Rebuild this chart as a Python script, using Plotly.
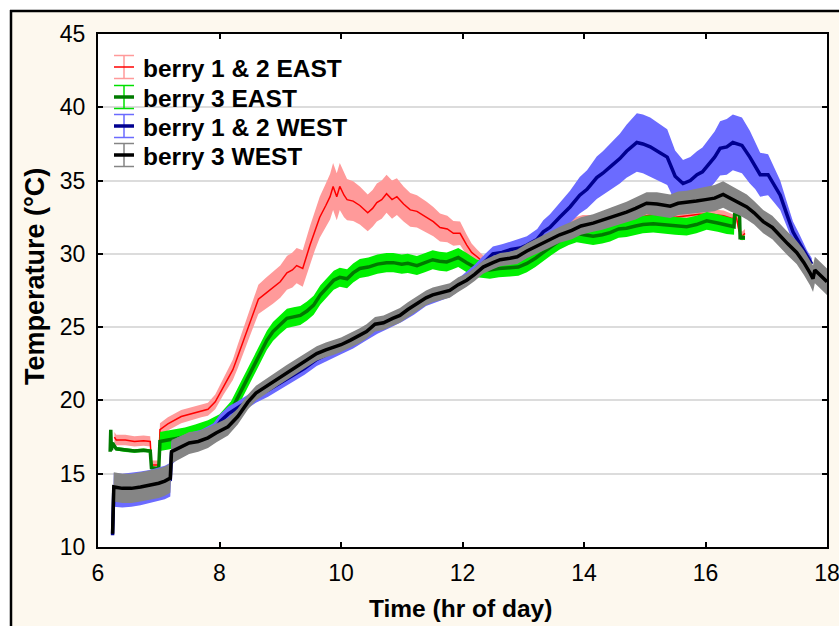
import plotly.graph_objects as go

# ---------------- data ----------------
x_ticks = [6, 8, 10, 12, 14, 16, 18]
y_ticks = [10, 15, 20, 25, 30, 35, 40, 45]

series_names = ["berry 1 & 2 EAST", "berry 3 EAST", "berry 1 & 2 WEST", "berry 3 WEST"]
x_title = "Time (hr of day)"
y_title = "Temperature (°C)"

# berry 1 & 2 EAST (red)
red_t = [6.27, 6.3, 6.45, 6.6, 6.75, 6.86, 6.88, 7.0, 7.02, 7.15, 7.37, 7.55, 7.7, 7.81, 7.93, 8.06,
         8.14, 8.22, 8.3, 8.39, 8.5, 8.64, 8.76, 8.88, 9.0, 9.11, 9.2, 9.27, 9.37, 9.49, 9.57, 9.65,
         9.75, 9.82, 9.87, 9.93, 9.98, 10.05, 10.1, 10.2, 10.31, 10.44, 10.52, 10.59, 10.67, 10.75,
         10.84, 10.92, 11.03, 11.14, 11.25, 11.41, 11.52, 11.63, 11.75, 11.85, 11.96, 12.07, 12.15,
         12.24, 12.35, 12.5, 12.7, 12.9, 13.1, 13.3, 13.45, 13.6, 13.82, 13.98, 14.2, 14.4, 14.6,
         14.81, 15.09, 15.3, 15.5, 15.7, 15.9, 16.1, 16.3, 16.45, 16.5, 16.55, 16.6, 16.65]
red_mean = [17.5, 17.3, 17.3, 17.2, 17.25, 17.2, 15.6, 15.6, 18.0, 18.4, 18.9, 19.1, 19.3, 19.4, 19.9, 20.9,
            21.5, 22.1, 23.0, 24.0, 25.3, 26.9, 27.3, 27.7, 28.1, 28.7, 28.9, 29.2, 29.0, 30.6, 31.6, 32.5,
            33.3, 33.9, 34.6, 33.9, 34.6, 34.0, 33.7, 33.6, 33.3, 32.8, 33.1, 33.5, 33.7, 34.1,
            33.7, 33.9, 33.4, 33.0, 32.9, 32.5, 32.2, 31.8, 31.7, 31.4, 31.4, 30.6, 30.1,
            29.8, 29.4, 29.3, 29.5, 29.8, 30.2, 30.8, 31.3, 31.8, 32.1, 32.3, 32.3, 32.2, 32.3,
            32.4, 32.65, 32.6, 32.5, 32.6, 32.7, 32.7, 32.6, 32.4, 32.7, 31.6, 31.2, 31.4]
red_err = [0.35, 0.35, 0.35, 0.35, 0.35, 0.35, 0.3, 0.3, 0.45, 0.45, 0.45, 0.45, 0.45, 0.45, 0.5, 0.55,
           0.6, 0.7, 0.8, 0.85, 0.9, 1.0, 1.05, 1.1, 1.1, 1.15, 1.2, 1.2, 1.25, 1.3, 1.35, 1.4,
           1.5, 1.55, 1.6, 1.6, 1.6, 1.5, 1.4, 1.35, 1.3, 1.25, 1.25, 1.3, 1.3, 1.3,
           1.3, 1.25, 1.2, 1.15, 1.1, 1.05, 1.0, 0.95, 0.9, 0.85, 0.8, 0.7, 0.6,
           0.5, 0.45, 0.4, 0.4, 0.4, 0.4, 0.4, 0.4, 0.4, 0.35, 0.35, 0.35, 0.35, 0.35,
           0.35, 0.35, 0.35, 0.35, 0.35, 0.35, 0.35, 0.35, 0.3, 0.3, 0.3, 0.3, 0.3]

# berry 3 EAST (green)
grn_t = [6.2, 6.21, 6.22, 6.24, 6.3, 6.45, 6.6, 6.75, 6.86, 6.88, 6.95, 7.0, 7.02, 7.15, 7.3, 7.43,
         7.6, 7.81, 8.0, 8.19, 8.35, 8.5, 8.67, 8.78, 8.88, 9.0, 9.11, 9.22, 9.33, 9.44, 9.55, 9.66,
         9.77, 9.88, 9.98, 10.1, 10.2, 10.31, 10.45, 10.6, 10.75, 10.86, 11.0, 11.1, 11.25, 11.38,
         11.51, 11.62, 11.74, 11.84, 11.93, 12.07, 12.24, 12.45, 12.6, 12.78, 12.92, 13.06, 13.2,
         13.33, 13.46, 13.6, 13.75, 13.88, 14.0, 14.15, 14.3, 14.43, 14.57, 14.7, 14.85, 14.97,
         15.14, 15.3, 15.5, 15.69, 15.85, 16.02, 16.2, 16.35, 16.47, 16.48, 16.56, 16.57, 16.65]
grn_mean = [16.5, 18.0, 16.6, 17.1, 16.7, 16.6, 16.55, 16.6, 16.55, 15.4, 15.35, 15.4, 17.2, 17.3, 17.4, 17.5,
            17.7, 18.0, 18.4, 19.3, 20.6, 21.8, 23.2, 24.1, 24.7, 25.2, 25.6, 25.7, 25.8, 26.1, 26.5, 27.2,
            27.7, 28.2, 28.4, 28.3, 28.7, 29.0, 29.1, 29.3, 29.4, 29.4, 29.3, 29.35, 29.2, 29.4,
            29.6, 29.5, 29.45, 29.6, 29.75, 29.4, 29.0, 28.9, 29.0, 29.05, 29.1, 29.35, 29.7,
            30.1, 30.5, 30.9, 31.2, 31.4, 31.3, 31.2, 31.3, 31.45, 31.7, 31.75, 31.9, 32.0,
            32.05, 32.0, 31.9, 31.85, 32.0, 32.25, 32.1, 31.95, 31.85, 32.7, 32.7, 31.1, 31.1]
grn_err = [0.1, 0.1, 0.1, 0.1, 0.12, 0.12, 0.12, 0.12, 0.12, 0.12, 0.12, 0.12, 0.65, 0.65, 0.65, 0.65,
           0.65, 0.65, 0.65, 0.65, 0.65, 0.65, 0.65, 0.65, 0.65, 0.65, 0.65, 0.65, 0.65, 0.65, 0.65, 0.65,
           0.65, 0.65, 0.65, 0.65, 0.65, 0.65, 0.65, 0.65, 0.65, 0.65, 0.65, 0.65, 0.65, 0.65,
           0.65, 0.65, 0.65, 0.65, 0.65, 0.65, 0.6, 0.6, 0.6, 0.6, 0.6, 0.6, 0.6,
           0.6, 0.6, 0.6, 0.6, 0.6, 0.6, 0.6, 0.6, 0.6, 0.6, 0.6, 0.6, 0.6,
           0.6, 0.6, 0.6, 0.6, 0.6, 0.6, 0.6, 0.6, 0.55, 0.15, 0.15, 0.15, 0.15]

# berry 1 & 2 WEST (blue)
blu_t = [6.24, 6.26, 6.4, 6.55, 6.7, 6.85, 7.0, 7.1, 7.19, 7.21, 7.3, 7.5, 7.7, 7.9, 8.02, 8.15,
         8.3, 8.45, 8.6, 8.8, 9.0, 9.2, 9.4, 9.6, 9.8, 10.0, 10.2, 10.4, 10.6, 10.8, 11.0, 11.2,
         11.4, 11.6, 11.8, 12.0, 12.2, 12.35, 12.5, 12.65, 12.8, 12.95, 13.06, 13.23, 13.33, 13.44,
         13.6, 13.77, 13.93, 14.05, 14.21, 14.31, 14.45, 14.59, 14.7, 14.87, 14.97, 15.09, 15.25,
         15.37, 15.5, 15.63, 15.75, 15.86, 15.95, 16.07, 16.15, 16.24, 16.35, 16.45, 16.6, 16.73,
         16.82, 16.9, 17.03, 17.13, 17.23, 17.33, 17.44, 17.55, 17.67, 17.75]
blu_mean = [10.8, 13.9, 13.85, 13.9, 14.0, 14.1, 14.3, 14.4, 14.6, 16.4, 16.7, 17.1, 17.4, 17.9, 18.6, 19.1,
            19.5, 19.9, 20.3, 20.7, 21.2, 21.7, 22.2, 22.8, 23.2, 23.6, 24.0, 24.5, 25.0, 25.4, 25.8, 26.3,
            26.9, 27.2, 27.5, 28.1, 28.8, 29.4, 30.0, 30.1, 30.3, 30.4, 30.6, 31.0, 31.5, 31.8,
            32.5, 33.2, 34.0, 34.4, 35.2, 35.5, 36.0, 36.5, 37.0, 37.6, 37.5, 37.3, 36.9,
            36.6, 35.3, 34.8, 35.0, 35.4, 35.6, 36.2, 36.6, 37.2, 37.3, 37.6, 37.4, 36.6,
            36.0, 35.4, 35.4, 34.7, 34.0, 32.8, 31.5, 30.7, 29.8, 29.3]
blu_err = [0.1, 1.15, 1.15, 1.15, 1.15, 1.15, 1.15, 1.15, 1.15, 0.8, 0.75, 0.7, 0.6, 0.55, 0.5, 0.5,
           0.45, 0.45, 0.45, 0.45, 0.45, 0.45, 0.45, 0.45, 0.45, 0.45, 0.45, 0.45, 0.45, 0.45, 0.45, 0.45,
           0.45, 0.45, 0.45, 0.45, 0.45, 0.5, 0.5, 0.55, 0.55, 0.6, 0.6, 0.7, 0.8, 0.9,
           1.0, 1.1, 1.25, 1.3, 1.45, 1.5, 1.6, 1.7, 1.8, 2.0, 2.0, 2.0, 1.95,
           1.9, 1.75, 1.6, 1.6, 1.6, 1.65, 1.7, 1.75, 1.85, 1.9, 1.9, 1.9, 1.8,
           1.6, 1.5, 1.4, 1.2, 1.0, 0.85, 0.7, 0.6, 0.45, 0.4]

# berry 3 WEST (black)
blk_t = [6.24, 6.26, 6.4, 6.55, 6.7, 6.85, 7.0, 7.1, 7.19, 7.21, 7.3, 7.43, 7.5, 7.65, 7.81, 7.95,
         8.14, 8.3, 8.47, 8.6, 8.75, 8.96, 9.1, 9.3, 9.45, 9.6, 9.75, 9.87, 10.0, 10.15, 10.3, 10.42,
         10.56, 10.7, 10.85, 10.97, 11.1, 11.25, 11.4, 11.51, 11.65, 11.79, 11.93, 12.07, 12.2, 12.34,
         12.5, 12.62, 12.78, 12.9, 13.06, 13.2, 13.4, 13.6, 13.8, 13.95, 14.15, 14.3, 14.45, 14.6,
         14.7, 14.85, 15.03, 15.2, 15.42, 15.55, 15.69, 15.85, 16.0, 16.15, 16.29, 16.4, 16.55, 16.68,
         16.8, 16.95, 17.1, 17.23, 17.35, 17.5, 17.62, 17.72, 17.77, 17.8, 17.9, 18.0]
blk_mean = [10.9, 14.1, 14.0, 14.0, 14.1, 14.2, 14.35, 14.5, 14.7, 16.5, 16.7, 16.95, 17.1, 17.2, 17.45, 17.8,
            18.2, 18.9, 19.9, 20.5, 20.9, 21.5, 21.9, 22.4, 22.8, 23.2, 23.45, 23.6, 23.8, 24.1, 24.4, 24.7,
            25.2, 25.3, 25.6, 25.8, 26.2, 26.6, 27.0, 27.2, 27.35, 27.5, 27.9, 28.2, 28.6, 29.1,
            29.4, 29.6, 29.7, 29.8, 30.2, 30.5, 30.9, 31.3, 31.6, 31.9, 32.1, 32.3, 32.5, 32.7,
            32.85, 33.1, 33.45, 33.4, 33.25, 33.45, 33.5, 33.6, 33.7, 33.8, 34.05, 33.8, 33.5, 33.2,
            32.8, 32.2, 31.8, 31.2, 30.7, 30.1, 29.4, 28.7, 28.3, 28.9, 28.5, 28.1]
blk_err = [0.1, 1.0, 1.0, 1.0, 1.0, 1.0, 1.0, 1.0, 1.0, 0.8, 0.75, 0.75, 0.75, 0.7, 0.7, 0.65,
           0.6, 0.55, 0.5, 0.5, 0.5, 0.5, 0.5, 0.5, 0.5, 0.5, 0.5, 0.5, 0.5, 0.5, 0.5, 0.5,
           0.5, 0.5, 0.5, 0.5, 0.5, 0.5, 0.5, 0.5, 0.5, 0.5, 0.5, 0.45, 0.45, 0.45,
           0.45, 0.45, 0.45, 0.5, 0.5, 0.5, 0.55, 0.55, 0.6, 0.6, 0.6, 0.65, 0.65, 0.7,
           0.7, 0.75, 0.75, 0.8, 0.8, 0.8, 0.8, 0.85, 0.85, 0.9, 0.9, 0.9, 0.85, 0.85,
           0.8, 0.8, 0.8, 0.8, 0.8, 0.8, 0.85, 0.85, 0.9, 0.9, 0.9, 0.9]

# ---------------- styles ----------------
band_colors = ["#FF9A9A", "#00F000", "#6B6BFF", "#858585"]
line_colors = ["#FF0000", "#007A00", "#000090", "#000000"]
line_widths = [1.5, 3.5, 3.5, 3.5]
cap_colors = ["#FF9A9A", "#00E000", "#6B6BFF", "#858585"]
FONT = "Liberation Sans, Arial"

all_t = [red_t, grn_t, blu_t, blk_t]
all_m = [red_mean, grn_mean, blu_mean, blk_mean]
all_e = [red_err, grn_err, blu_err, blk_err]

fig = go.Figure()

for i in range(4):
    t, m, e = all_t[i], all_m[i], all_e[i]
    upper = [a + b for a, b in zip(m, e)]
    lower = [a - b for a, b in zip(m, e)]
    fig.add_trace(go.Scatter(
        x=t + t[::-1], y=upper + lower[::-1], fill="toself",
        fillcolor=band_colors[i], line=dict(width=0, color=band_colors[i]),
        mode="lines", hoverinfo="skip", showlegend=False))
    fig.add_trace(go.Scatter(
        x=t, y=m, mode="lines", name=series_names[i],
        line=dict(color=line_colors[i], width=line_widths[i]), showlegend=False))

# ---------------- layout geometry (pixels) ----------------
W, H = 839, 626
PL, PR, PT, PB = 98, 827, 34, 547


def xp(px):
    return (px - PL) / (PR - PL)


def yp(py):
    return (PB - py) / (PB - PT)


shapes = []
# white strips outside the outer frame and the frame lines
shapes.append(dict(type="rect", xref="paper", yref="paper", x0=xp(-5), x1=xp(W + 5), y0=yp(10), y1=yp(-5),
                   fillcolor="white", line=dict(width=0), layer="below"))
shapes.append(dict(type="rect", xref="paper", yref="paper", x0=xp(-5), x1=xp(10), y0=yp(H + 5), y1=yp(-5),
                   fillcolor="white", line=dict(width=0), layer="below"))
shapes.append(dict(type="line", xref="paper", yref="paper", x0=xp(10), x1=xp(W + 5), y0=yp(11), y1=yp(11),
                   line=dict(color="black", width=2.5)))
shapes.append(dict(type="line", xref="paper", yref="paper", x0=xp(11), x1=xp(11), y0=yp(10), y1=yp(H + 5),
                   line=dict(color="black", width=2.5)))

# legend (error-bar style icons)
legend_y = [67, 97, 126, 155]
annotations = []
for i in range(4):
    cy = legend_y[i]
    top, bot = cy - 11.5, cy + 11.5
    shapes.append(dict(type="line", xref="paper", yref="paper", x0=xp(124), x1=xp(124), y0=yp(bot), y1=yp(top),
                       line=dict(color=cap_colors[i], width=1.5)))
    for yy in (top, bot):
        shapes.append(dict(type="line", xref="paper", yref="paper", x0=xp(114), x1=xp(134), y0=yp(yy), y1=yp(yy),
                           line=dict(color=cap_colors[i], width=1.5)))
    shapes.append(dict(type="line", xref="paper", yref="paper", x0=xp(114), x1=xp(134), y0=yp(cy), y1=yp(cy),
                       line=dict(color=line_colors[i], width=line_widths[i])))
    annotations.append(dict(xref="paper", yref="paper", x=xp(141), y=yp(cy + 1), xanchor="left", yanchor="middle",
                            text="<b>" + series_names[i] + "</b>", showarrow=False,
                            font=dict(size=24.5, color="black", family=FONT)))

# axis titles
annotations.append(dict(xref="paper", yref="paper", x=xp(460), y=yp(608), xanchor="center", yanchor="middle",
                        text="<b>" + x_title + "</b>", showarrow=False,
                        font=dict(size=24.5, color="black", family=FONT)))
annotations.append(dict(xref="paper", yref="paper", x=xp(35), y=yp(277), xanchor="center", yanchor="middle",
                        text="<b>" + y_title + "</b>", showarrow=False, textangle=-90,
                        font=dict(size=27, color="black", family=FONT)))

fig.update_layout(
    width=W, height=H,
    margin=dict(l=PL, r=W - PR, t=PT, b=H - PB, pad=0),
    paper_bgcolor="#FDF8EE", plot_bgcolor="white",
    font=dict(family=FONT, size=23, color="black"),
    showlegend=False,
    shapes=shapes, annotations=annotations,
    xaxis=dict(range=[6, 18], tickvals=x_ticks, ticktext=[str(v) for v in x_ticks],
               showgrid=False, zeroline=False, showline=True, linecolor="black", linewidth=2,
               mirror="ticks", ticks="inside", ticklen=5, tickwidth=1.5, tickcolor="black",
               ticklabelstandoff=4, automargin=False, ticklabeloverflow="allow"),
    yaxis=dict(range=[10, 45], tickvals=y_ticks, ticktext=[str(v) for v in y_ticks],
               showgrid=True, gridcolor="#DCDCDC", gridwidth=1.5, zeroline=False,
               showline=True, linecolor="black", linewidth=2,
               mirror="ticks", ticks="inside", ticklen=5, tickwidth=1.5, tickcolor="black",
               ticklabelstandoff=6, automargin=False, ticklabeloverflow="allow"),
)

fig.write_html("out.html")
